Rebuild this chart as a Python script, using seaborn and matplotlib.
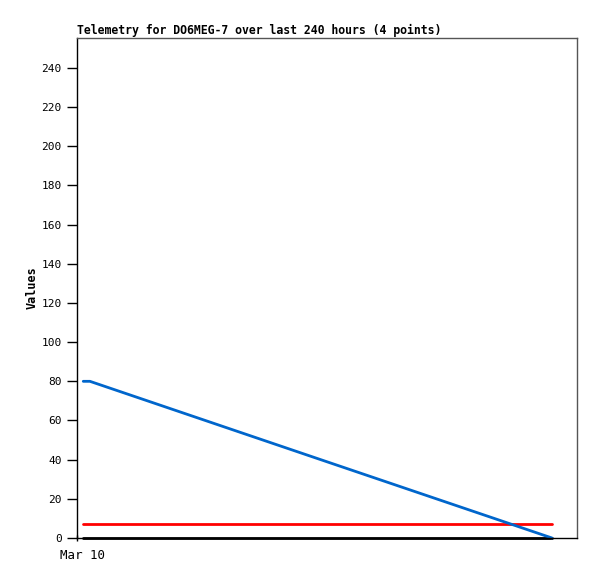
import numpy as np
import pandas as pd
import matplotlib
matplotlib.use("Agg")
import matplotlib.pyplot as plt
import matplotlib.transforms as mtransforms
import seaborn as sns

# hours since start of window
hours = [3.0, 6.2, 117.0, 228.0]
blue_vals = [80.0, 80.0, 40.0, 0.0]
red_vals = [7.0, 7.0, 7.0, 7.0]
black_vals = [0.0, 0.0, 0.0, 0.0]

title = "Telemetry for DO6MEG-7 over last 240 hours (4 points)"
y_ticks = list(range(0, 241, 20))
x_tick_labels = ["Mar 10"]

df = pd.DataFrame({
    "hours": hours * 3,
    "value": blue_vals + red_vals + black_vals,
    "series": ["blue"] * 4 + ["red"] * 4 + ["black"] * 4,
})

sns.set_style("white")
plt.rcParams["font.family"] = ["DejaVu Sans Mono"]
plt.rcParams["text.color"] = "black"

fig = plt.figure(figsize=(5.97, 5.79), dpi=100)
ax = fig.add_axes([77 / 597, 41 / 579, 500 / 597, 500 / 579])

sns.lineplot(data=df, x="hours", y="value", hue="series",
             palette={"blue": "#0066cc", "red": "#ff0000", "black": "#000000"},
             hue_order=["black", "red", "blue"],
             linewidth=2.0, legend=False, ax=ax)
for line in ax.get_lines():
    line.set_clip_on(False)

ax.set_xlim(0, 240)
ax.set_ylim(0, 255.3)
ax.set_yticks(y_ticks)
ax.set_yticklabels([str(v) for v in y_ticks], fontsize=8)
ax.set_xticks([0])
ax.set_xticklabels(x_tick_labels, fontsize=9)
ax.tick_params(axis="y", length=7, width=1, color="black", labelcolor="black",
               pad=4, direction="out", left=True)
ax.tick_params(axis="x", length=4, width=1, color="black", labelcolor="black",
               pad=6, direction="inout", bottom=True)

# the date label sits a little right of its tick in the reference
shift = mtransforms.ScaledTranslation(6 / 100, 0, fig.dpi_scale_trans)
for lbl in ax.get_xticklabels():
    lbl.set_transform(lbl.get_transform() + shift)

ax.set_xlabel("")
ax.set_ylabel("Values", fontsize=8.5, fontweight="bold", labelpad=2, color="black")
ax.set_title(title, fontsize=8.3, fontweight="bold", loc="left", pad=3, color="black")

for side in ["left", "bottom"]:
    ax.spines[side].set_color("black")
    ax.spines[side].set_linewidth(1)
for side in ["top", "right"]:
    ax.spines[side].set_color("#555555")
    ax.spines[side].set_linewidth(1)

fig.savefig("out.png", dpi=100)
